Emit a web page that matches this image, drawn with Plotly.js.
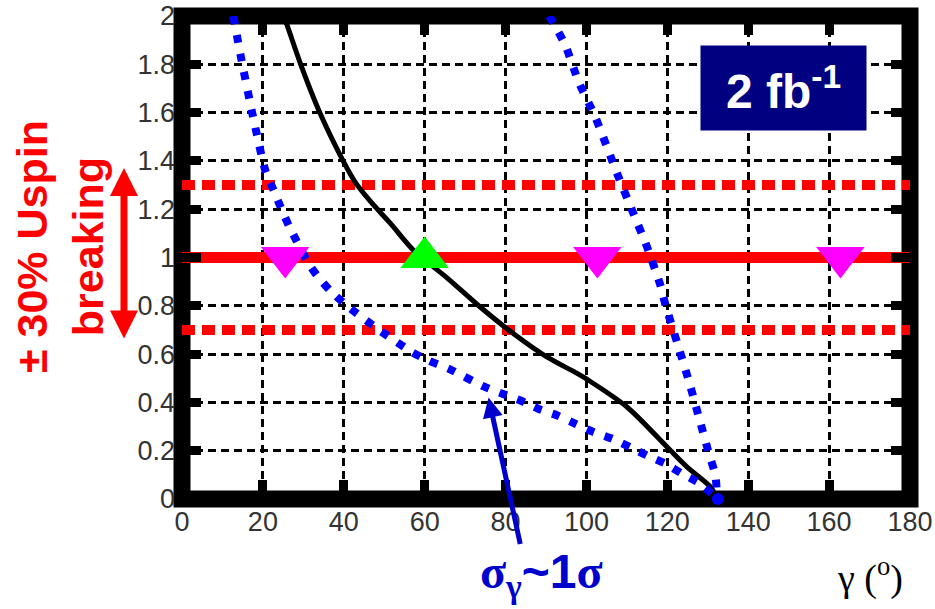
<!DOCTYPE html>
<html>
<head>
<meta charset="utf-8">
<script src="https://cdn.plot.ly/plotly-3.0.1.min.js"></script>
<style>html,body{margin:0;padding:0;background:#fff;}#chart{width:935px;height:609px;}</style>
</head>
<body>
<div id="chart"></div>
<script>
// central curve (black)
const gammaCentral = [25.1, 26.0, 29.3, 34.2, 40.0, 42.9, 46.6, 51.6, 57.3, 65.6, 73.8, 82.0, 90.3, 97.7, 100.2, 110.1, 120.0, 124.9, 130.7, 132.3];
const ratioCentral = [2.0, 1.961, 1.802, 1.595, 1.395, 1.31, 1.232, 1.14, 1.029, 0.915, 0.794, 0.684, 0.587, 0.52, 0.495, 0.38, 0.214, 0.132, 0.049, 0.0];
// 1 sigma band, left branch (blue dotted)
const gammaLow = [12.7, 14.5, 17.4, 20.6, 22.7, 24.4, 26.4, 31.3, 33.4, 36.8, 40.8, 48.3, 56.9, 61.0, 66.0, 74.6, 79.2, 83.7, 88.2, 92.8, 97.3, 101.8, 106.4, 110.9, 115.0, 119.6, 123.7, 128.2, 132.3];
const ratioLow = [2.0, 1.836, 1.596, 1.36, 1.277, 1.208, 1.132, 0.975, 0.925, 0.86, 0.80, 0.705, 0.608, 0.573, 0.539, 0.466, 0.436, 0.408, 0.373, 0.346, 0.311, 0.277, 0.249, 0.214, 0.18, 0.146, 0.104, 0.063, 0.0];
// 1 sigma band, right branch (blue dotted)
const gammaHigh = [90.8, 92.4, 94.8, 98.1, 102.2, 107.6, 111.3, 115.0, 118.3, 119.6, 122.4, 125.3, 127.8, 130.3, 131.9, 132.3];
const ratioHigh = [2.0, 1.954, 1.878, 1.726, 1.581, 1.347, 1.195, 1.043, 0.884, 0.80, 0.649, 0.49, 0.339, 0.187, 0.097, 0.0];
// end point of the band
const gammaEnd = [132.5];
const ratioEnd = [0];
// U-spin reference lines
const xRange = [0, 180];
const ratioNominal = [1, 1];
const ratioUp = [1.3, 1.3];
const ratioDown = [0.7, 0.7];
// solutions
const gammaMagenta = [25.5, 102.7, 162.8];
const ratioMagenta = [1, 1, 1];
const gammaGreen = [60];
const ratioGreen = [1];
// ticks
const xTickVals = [0, 20, 40, 60, 80, 100, 120, 140, 160, 180];
const xTickText = ['0', '20', '40', '60', '80', '100', '120', '140', '160', '180'];
const yTickVals = [0, 0.2, 0.4, 0.6, 0.8, 1, 1.2, 1.4, 1.6, 1.8, 2];
const yTickText = ['0', '0.2', '0.4', '0.6', '0.8', '1', '1.2', '1.4', '1.6', '1.8', '2'];
// arrow target
const arrowGamma = 75.8;
const arrowRatio = 0.42;

const traces = [
  {x: xRange, y: ratioNominal, mode: 'lines', line: {color: '#ff0000', width: 11}, hoverinfo: 'skip'},
  {x: xRange, y: ratioUp, mode: 'lines', line: {color: '#ff0000', width: 10, dash: '13px,7px'}, hoverinfo: 'skip'},
  {x: xRange, y: ratioDown, mode: 'lines', line: {color: '#ff0000', width: 10, dash: '13px,7px'}, hoverinfo: 'skip'},
  {x: gammaCentral, y: ratioCentral, mode: 'lines', line: {color: '#000000', width: 5, shape: 'spline', smoothing: 0.8}},
  {x: gammaLow, y: ratioLow, mode: 'lines', line: {color: '#0000ff', width: 8, dash: '8px,11px', shape: 'spline', smoothing: 0.6}},
  {x: gammaHigh, y: ratioHigh, mode: 'lines', line: {color: '#0000ff', width: 8, dash: '8px,11px', shape: 'spline', smoothing: 0.6}},
  {x: gammaEnd, y: ratioEnd, mode: 'markers', cliponaxis: false, marker: {color: '#0000ff', size: 12, symbol: 'circle'}},
  {x: gammaMagenta, y: ratioMagenta, mode: 'markers', cliponaxis: false, marker: {color: '#ff00ff', size: 42, symbol: 'triangle-down', line: {width: 0}}},
  {x: gammaGreen, y: ratioGreen, mode: 'markers', cliponaxis: false, marker: {color: '#00ff00', size: 42, symbol: 'triangle-up', line: {width: 0}}}
];

const tickFont = {family: 'Liberation Sans, Arial, sans-serif', size: 27, color: '#333333'};

const layout = {
  width: 935, height: 609,
  margin: {l: 182, r: 25, t: 16, b: 110, pad: 0},
  paper_bgcolor: '#ffffff', plot_bgcolor: 'rgba(0,0,0,0)',
  showlegend: false,
  xaxis: {
    range: [0, 180], tickvals: xTickVals, ticktext: xTickText,
    showgrid: true, gridcolor: '#000000', gridwidth: 3, griddash: '8px,5px',
    zeroline: false, showline: false, mirror: 'ticks',
    ticks: 'inside', ticklen: 19, tickwidth: 9, tickcolor: '#000000',
    tickfont: tickFont, ticklabelstandoff: 4, layer: 'above traces'
  },
  yaxis: {
    range: [0, 2], tickvals: yTickVals, ticktext: yTickText,
    showgrid: true, gridcolor: '#000000', gridwidth: 3, griddash: '8px,5px',
    zeroline: false, showline: false, mirror: 'ticks',
    ticks: 'inside', ticklen: 19, tickwidth: 9, tickcolor: '#000000',
    tickfont: tickFont, ticklabelstandoff: 6, layer: 'above traces'
  },
  shapes: [
    {type: 'rect', xref: 'paper', yref: 'paper', x0: 0, x1: 1, y0: 0, y1: 1,
     line: {color: '#000000', width: 17}, fillcolor: 'rgba(0,0,0,0)', layer: 'below'}
  ],
  annotations: [
    {xref: 'paper', yref: 'paper', x: -0.1675, y: 0.5217, xanchor: 'center', yanchor: 'middle',
     textangle: -90, showarrow: false,
     text: '<b>± 30% Uspin<br>breaking</b>',
     font: {family: 'Liberation Sans, Arial, sans-serif', size: 43, color: '#ff0000'}},
    {xref: 'paper', yref: 'paper', x: -0.0797, y: 0.6853, text: '', showarrow: true,
     ax: 0, ay: 172, axref: 'pixel', ayref: 'pixel',
     arrowside: 'end+start', arrowhead: 2, startarrowhead: 2, arrowsize: 0.8, startarrowsize: 0.8,
     arrowwidth: 7, arrowcolor: '#ff0000', standoff: 0, startstandoff: 0},
    {xref: 'paper', yref: 'paper', x: 0.8262, y: 0.851, xanchor: 'center', yanchor: 'middle',
     showarrow: false, width: 165, height: 84, borderpad: 0, bgcolor: '#000080',
     text: '<b>2 fb<sup>-1</sup></b>',
     font: {family: 'Liberation Sans, Arial, sans-serif', size: 48, color: '#ffffff'}},
    {xref: 'x', yref: 'y', x: arrowGamma, y: arrowRatio, text: '', showarrow: true,
     ax: 32, ay: 148, axref: 'pixel', ayref: 'pixel',
     arrowhead: 2, arrowsize: 0.8, arrowwidth: 5, arrowcolor: '#0000cc', standoff: 0},
    {xref: 'paper', yref: 'paper', x: 0.4945, y: -0.157, xanchor: 'center', yanchor: 'middle',
     showarrow: false,
     text: '<b><span style="font-family:Liberation Serif">σ</span><sub><span style="font-family:Liberation Serif">γ</span></sub>~1<span style="font-family:Liberation Serif">σ</span></b>',
     font: {family: 'Liberation Sans, Arial, sans-serif', size: 48, color: '#0000cc'}},
    {xref: 'paper', yref: 'paper', x: 0.945, y: -0.159, xanchor: 'center', yanchor: 'middle',
     showarrow: false,
     text: 'γ (<sup>o</sup>)',
     font: {family: 'Liberation Serif, Times New Roman, serif', size: 38, color: '#000000'}}
  ]
};

Plotly.newPlot('chart', traces, layout, {staticPlot: true, displayModeBar: false});
</script>
</body>
</html>
